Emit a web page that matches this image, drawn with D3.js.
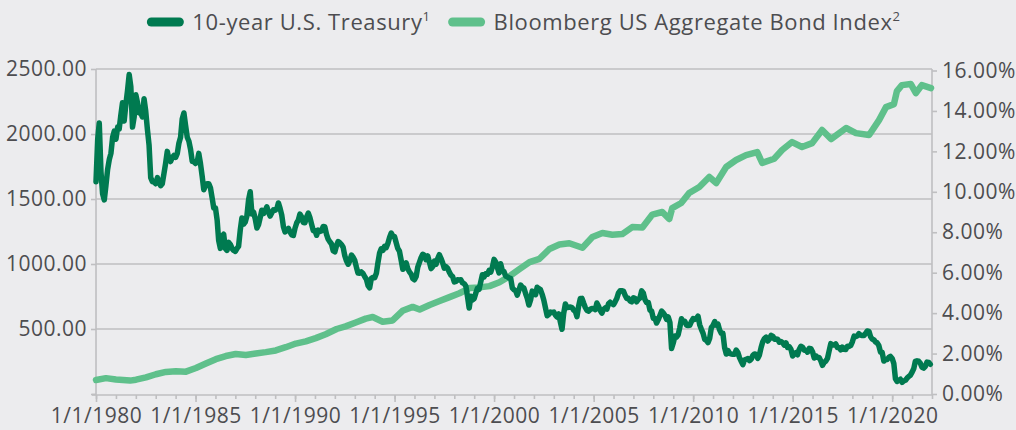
<!DOCTYPE html>
<html>
<head>
<meta charset="utf-8">
<script src="https://cdn.jsdelivr.net/npm/d3@7"></script>
<style>
  body { margin: 0; background: #ececee; }
  svg text { font-family: "Open Sans", sans-serif; fill: #4d4d50; }
</style>
</head>
<body>
<svg id="chart" width="1016" height="430"></svg>
<script>
// 10-year U.S. Treasury yield (%), one value per month from Jan 1980 to Dec 2021
var yieldStart = new Date(1980, 0, 1);
var yields = [
  10.5, 12.6, 13.4, 11.0, 9.9, 9.6, 10.3, 11.1, 11.6, 11.9, 12.7, 13.0,      // 1980
  12.6, 13.2, 13.1, 13.8, 14.4, 13.5, 14.3, 15.0, 15.8, 15.2, 13.2, 13.7,    // 1981
  14.8, 14.4, 13.9, 13.9, 13.7, 14.6, 14.0, 13.1, 12.3, 10.7, 10.5, 10.5,    // 1982
  10.4, 10.7, 10.5, 10.3, 10.4, 10.9, 11.4, 12.0, 11.6, 11.5, 11.7, 11.8,    // 1983
  11.7, 11.9, 12.4, 12.7, 13.6, 13.9, 13.3, 12.7, 12.5, 12.1, 11.5, 11.5,    // 1984
  11.4, 11.5, 11.9, 11.4, 10.8, 10.1, 10.3, 10.4, 10.4, 10.2, 9.7, 9.2,      // 1985
  9.2, 8.6, 7.6, 7.2, 7.8, 7.9, 7.2, 7.1, 7.5, 7.4, 7.2, 7.1,                // 1986
  7.05, 7.2, 7.3, 8.1, 8.7, 8.4, 8.5, 8.8, 9.6, 10.0, 8.9, 9.0,              // 1987
  8.67, 8.21, 8.37, 8.72, 9.09, 8.92, 9.06, 9.26, 8.98, 8.80, 8.96, 9.11,    // 1988
  9.09, 9.17, 9.45, 9.18, 8.86, 8.28, 8.02, 8.11, 8.19, 8.01, 7.87, 7.84,    // 1989
  8.21, 8.47, 8.59, 8.90, 8.76, 8.48, 8.47, 8.75, 8.95, 8.72, 8.39, 8.08,    // 1990
  8.09, 7.85, 8.11, 8.04, 8.07, 8.28, 8.27, 7.90, 7.65, 7.53, 7.42, 7.09,    // 1991
  7.03, 7.34, 7.54, 7.48, 7.39, 7.26, 6.84, 6.59, 6.42, 6.59, 6.87, 6.77,    // 1992
  6.60, 6.26, 5.98, 5.97, 6.04, 5.96, 5.81, 5.68, 5.36, 5.25, 5.72, 5.77,    // 1993
  5.75, 5.97, 6.48, 6.97, 7.18, 7.10, 7.30, 7.24, 7.46, 7.74, 7.96, 7.81,    // 1994
  7.78, 7.47, 7.20, 7.06, 6.63, 6.17, 6.28, 6.49, 6.20, 6.04, 5.93, 5.71,    // 1995
  5.65, 5.81, 6.27, 6.51, 6.74, 6.91, 6.87, 6.64, 6.83, 6.53, 6.20, 6.30,    // 1996
  6.58, 6.42, 6.69, 6.89, 6.71, 6.49, 6.22, 6.30, 6.21, 6.03, 5.88, 5.81,    // 1997
  5.54, 5.57, 5.65, 5.64, 5.65, 5.50, 5.46, 5.34, 4.81, 4.25, 4.83, 4.65,    // 1998
  4.72, 5.00, 5.23, 5.18, 5.54, 5.90, 5.79, 5.94, 5.92, 6.11, 6.03, 6.28,    // 1999
  6.66, 6.52, 6.26, 5.99, 6.44, 6.10, 6.05, 5.83, 5.80, 5.74, 5.72, 5.24,    // 2000
  5.16, 5.10, 4.89, 5.14, 5.39, 5.28, 5.24, 4.97, 4.73, 4.40, 4.65, 5.09,    // 2001
  5.04, 4.91, 5.28, 5.21, 5.16, 4.93, 4.65, 4.26, 3.87, 3.94, 4.05, 4.03,    // 2002
  4.05, 3.90, 3.81, 3.96, 3.57, 3.20, 3.98, 4.45, 4.27, 4.29, 4.30, 4.27,    // 2003
  4.15, 4.08, 3.83, 4.35, 4.72, 4.73, 4.50, 4.28, 4.13, 4.10, 4.19, 4.23,    // 2004
  4.22, 4.17, 4.50, 4.34, 4.14, 4.00, 4.18, 4.26, 4.20, 4.46, 4.54, 4.47,    // 2005
  4.42, 4.57, 4.72, 4.99, 5.11, 5.11, 5.09, 4.88, 4.72, 4.73, 4.60, 4.56,    // 2006
  4.76, 4.72, 4.56, 4.69, 4.75, 5.10, 5.00, 4.67, 4.52, 4.53, 4.15, 4.10,    // 2007
  3.74, 3.74, 3.51, 3.68, 3.88, 4.10, 4.01, 3.89, 3.69, 3.81, 3.53, 2.25,    // 2008
  2.52, 2.87, 2.82, 2.93, 3.29, 3.72, 3.56, 3.59, 3.40, 3.39, 3.40, 3.59,    // 2009
  3.73, 3.69, 3.73, 3.85, 3.42, 3.20, 3.01, 2.70, 2.65, 2.54, 2.76, 3.29,    // 2010
  3.39, 3.58, 3.41, 3.46, 3.17, 3.00, 3.00, 2.30, 1.98, 2.15, 2.01, 1.98,    // 2011
  1.97, 1.97, 2.17, 2.05, 1.80, 1.62, 1.45, 1.68, 1.72, 1.75, 1.65, 1.72,    // 2012
  1.91, 1.98, 1.96, 1.76, 1.93, 2.30, 2.58, 2.74, 2.81, 2.62, 2.72, 2.90,    // 2013
  2.86, 2.71, 2.72, 2.71, 2.56, 2.60, 2.54, 2.42, 2.53, 2.30, 2.33, 2.21,    // 2014
  1.88, 1.98, 2.04, 1.94, 2.20, 2.36, 2.32, 2.17, 2.17, 2.07, 2.26, 2.24,    // 2015
  2.09, 1.78, 1.89, 1.81, 1.81, 1.64, 1.42, 1.56, 1.63, 1.76, 2.14, 2.49,    // 2016
  2.43, 2.42, 2.48, 2.30, 2.30, 2.19, 2.32, 2.21, 2.20, 2.36, 2.35, 2.40,    // 2017
  2.58, 2.86, 2.84, 2.87, 2.98, 2.91, 2.89, 2.89, 3.00, 3.12, 3.10, 2.83,    // 2018
  2.71, 2.68, 2.57, 2.53, 2.40, 2.07, 2.06, 1.63, 1.70, 1.71, 1.81, 1.86,    // 2019
  1.76, 1.50, 0.75, 0.62, 0.67, 0.73, 0.58, 0.65, 0.68, 0.79, 0.87, 0.93,    // 2020
  1.08, 1.26, 1.61, 1.64, 1.62, 1.52, 1.32, 1.28, 1.37, 1.58, 1.56, 1.47     // 2021
];

// Bloomberg US Aggregate Bond Index level (decimal year, value)
var aggYears = [
  1980.00, 1980.50, 1981.00, 1981.71, 1982.01, 1982.51, 1983.01, 1983.51, 1984.01, 1984.52,
  1985.02, 1985.52, 1986.02, 1986.52, 1987.02, 1987.53, 1988.03, 1988.53, 1989.03, 1989.53,
  1990.04, 1990.54, 1991.04, 1991.54, 1992.09, 1992.54, 1993.05, 1993.55, 1993.90, 1994.40,
  1994.90, 1995.40, 1995.91, 1996.26, 1996.76, 1997.26, 1997.76, 1998.26, 1998.77, 1999.27,
  1999.77, 2000.27, 2000.77, 2001.27, 2001.78, 2002.28, 2002.78, 2003.28, 2003.78, 2004.44,
  2004.94, 2005.44, 2005.94, 2006.44, 2006.94, 2007.45, 2007.95, 2008.45, 2008.80, 2008.95,
  2009.40, 2009.80, 2010.31, 2010.81, 2011.16, 2011.66, 2012.16, 2012.66, 2013.22, 2013.47,
  2014.07, 2014.47, 2014.97, 2015.47, 2015.98, 2016.48, 2016.93, 2017.68, 2018.18, 2018.84,
  2019.34, 2019.69, 2020.09, 2020.24, 2020.49, 2020.94, 2021.19, 2021.49, 2021.95
];
var aggValues = [
  108, 122, 112, 103, 110, 128, 152, 170, 175, 172,
  200, 235, 268, 292, 308, 300, 312, 322, 335, 360,
  388, 405, 430, 460, 500, 520, 550, 580, 592, 556,
  566, 640, 670, 650, 685, 715, 745, 775, 815, 820,
  830, 860, 905, 960, 1015, 1040, 1115, 1150, 1160, 1125,
  1207, 1238, 1225, 1230, 1284, 1280, 1380, 1400, 1346, 1430,
  1469, 1546, 1592, 1669, 1623, 1746, 1800, 1838, 1861, 1777,
  1810, 1877, 1938, 1900, 1930, 2031, 1961, 2046, 2007, 1992,
  2107, 2207, 2230, 2330, 2376, 2384, 2315, 2376, 2353
];

var leftTicks = [0, 500, 1000, 1500, 2000, 2500];
var rightTicks = [0, 2, 4, 6, 8, 10, 12, 14, 16];
var yearLabels = [1980, 1985, 1990, 1995, 2000, 2005, 2010, 2015, 2020];

var darkGreen = "#007a50",
    lightGreen = "#5fc08b",
    gridColor = "#bfbfc1";

var svg = d3.select("#chart");

svg.append("rect")
  .attr("width", 1016)
  .attr("height", 430)
  .attr("fill", "#ececee");

function decimalToDate(y) {
  var year = Math.floor(y);
  var start = new Date(year, 0, 1);
  return new Date(start.getTime() + (y - year) * 365.25 * 864e5);
}

var yieldData = yields.map(function(v, i) {
  return {date: d3.timeMonth.offset(yieldStart, i), value: v};
});
var aggData = aggYears.map(function(y, i) {
  return {date: decimalToDate(y), value: aggValues[i]};
});

var x = d3.scaleTime()
  .domain([new Date(1980, 0, 1), new Date(2022, 0, 1)])
  .range([96, 932]);
var yLeft = d3.scaleLinear().domain([0, 2500]).range([394, 69]);
var yRight = d3.scaleLinear().domain([0, 16]).range([394, 70.5]);

// Horizontal gridlines follow the left axis
svg.append("g")
  .selectAll("line")
  .data(leftTicks.slice(1))
  .enter().append("line")
    .attr("x1", 96)
    .attr("x2", 932)
    .attr("y1", function(d) {return yLeft(d);})
    .attr("y2", function(d) {return yLeft(d);})
    .attr("stroke", gridColor)
    .attr("stroke-width", 1.6);

// Left axis
var leftAxis = svg.append("g")
  .attr("class", "axis axis--left")
  .attr("transform", "translate(96,0)")
  .call(d3.axisLeft(yLeft)
    .tickValues(leftTicks)
    .tickSize(5)
    .tickPadding(4)
    .tickFormat(function(d) {return d === 0 ? "" : d3.format(".2f")(d);}));

// Right axis
var rightAxis = svg.append("g")
  .attr("class", "axis axis--right")
  .attr("transform", "translate(932,0)")
  .call(d3.axisRight(yRight)
    .tickValues(rightTicks)
    .tickSize(5)
    .tickPadding(5)
    .tickFormat(function(d) {return d.toFixed(2) + "%";}));

// Bottom axis: minor ticks every year, labels every 5 years
var minorAxis = svg.append("g")
  .attr("class", "axis axis--minor")
  .attr("transform", "translate(0,395)")
  .call(d3.axisBottom(x)
    .ticks(d3.timeYear.every(1))
    .tickSize(4)
    .tickFormat(""));

var bottomAxis = svg.append("g")
  .attr("class", "axis axis--x")
  .attr("transform", "translate(0,395)")
  .call(d3.axisBottom(x)
    .tickValues(yearLabels.map(function(y) {return new Date(y, 0, 1);}))
    .tickSize(7)
    .tickFormat(function(d) {return "1/1/" + d.getFullYear();}));

svg.selectAll(".axis path, .axis line")
  .attr("stroke", gridColor)
  .attr("stroke-width", 1.6);
minorAxis.select("path").remove();
leftAxis.select("path").attr("d", "M-4,394.5H0V69");
rightAxis.select("path").attr("d", "M0,395V69");
bottomAxis.select("path").attr("d", "M92,0H932");

svg.selectAll(".axis text")
  .style("font-size", "21px")
  .style("letter-spacing", "0.5px")
  .attr("fill", "#4d4d50");
bottomAxis.selectAll("text").attr("y", 28).attr("dy", null);

// Lines
var aggLine = d3.line()
  .x(function(d) {return x(d.date);})
  .y(function(d) {return yLeft(d.value);});

var yieldLine = d3.line()
  .x(function(d) {return x(d.date);})
  .y(function(d) {return yRight(d.value);});

svg.append("path")
  .datum(aggData)
  .attr("fill", "none")
  .attr("stroke", lightGreen)
  .attr("stroke-width", 6.5)
  .attr("stroke-linejoin", "round")
  .attr("stroke-linecap", "round")
  .attr("d", aggLine);

svg.append("path")
  .datum(yieldData)
  .attr("fill", "none")
  .attr("stroke", darkGreen)
  .attr("stroke-width", 5.5)
  .attr("stroke-linejoin", "round")
  .attr("stroke-linecap", "round")
  .attr("d", yieldLine);

// Legend
var legendItems = [
  {label: "10-year U.S. Treasury", sup: "1", color: darkGreen},
  {label: "Bloomberg US Aggregate Bond Index", sup: "2", color: lightGreen}
];

var legend = svg.append("g").attr("class", "legend");
var offset = 0;
legendItems.forEach(function(item) {
  var g = legend.append("g").attr("transform", "translate(" + offset + ",0)");
  g.append("line")
    .attr("x1", 4).attr("x2", 32)
    .attr("y1", 0).attr("y2", 0)
    .attr("stroke", item.color)
    .attr("stroke-width", 9)
    .attr("stroke-linecap", "round");
  var t = g.append("text")
    .attr("x", 45)
    .attr("y", 8)
    .style("font-size", "22px")
    .style("letter-spacing", "0.6px");
  t.append("tspan").text(item.label);
  t.append("tspan")
    .attr("dy", -9)
    .style("font-size", "13px")
    .text(item.sup);
  offset += 45 + t.node().getComputedTextLength() + 18;
});
legend.attr("transform", "translate(" + (524 - (offset - 18) / 2) + ",22)");
</script>
</body>
</html>
